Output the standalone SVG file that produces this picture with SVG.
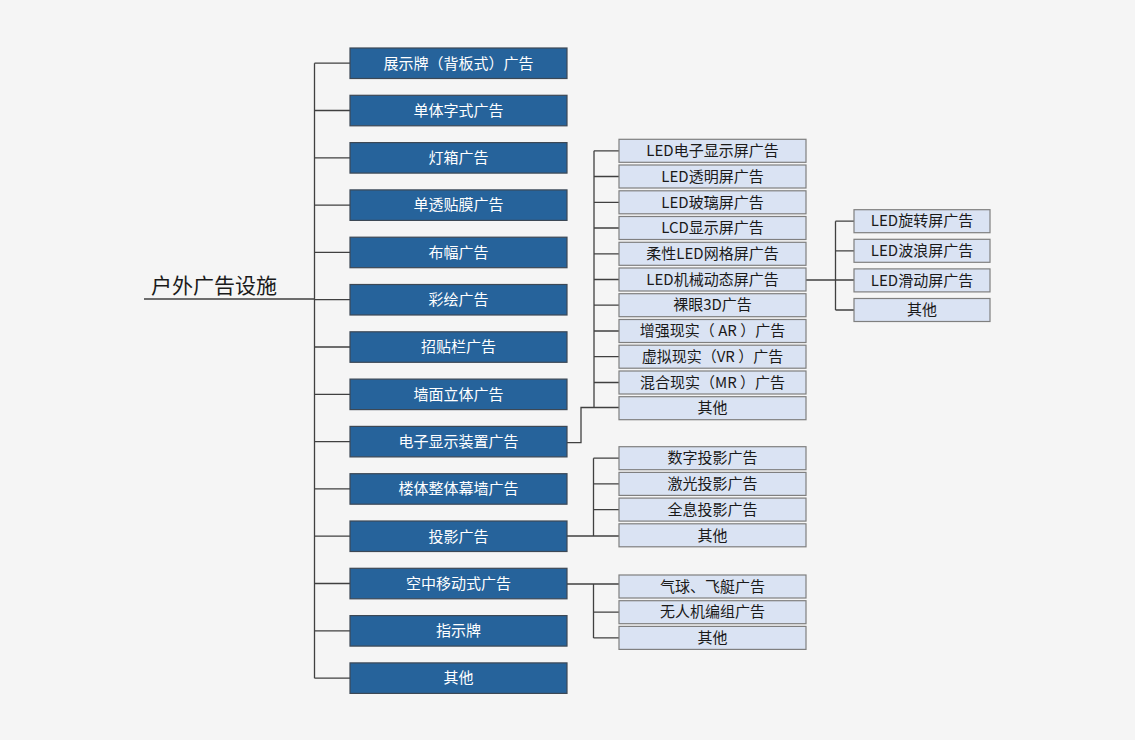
<svg xmlns="http://www.w3.org/2000/svg" width="1135" height="740" viewBox="0 0 1135 740">
<style>
.bg{fill:#f5f5f5}
.b1{fill:#26639b;stroke:#3c4855;stroke-width:1.2}
.b2{fill:#dae3f3;stroke:#7f7f7f;stroke-width:1.2}
.t1{font-family:"Noto Sans CJK SC","Noto Sans",sans-serif;font-size:15px;fill:#ffffff;text-anchor:middle;white-space:pre}
.t2{font-family:"Noto Sans CJK SC","Noto Sans",sans-serif;font-size:15px;fill:#1a1a1a;text-anchor:middle;white-space:pre}
.root{font-family:"Noto Sans CJK SC","Noto Sans",sans-serif;font-size:21px;fill:#1a1a1a}
.ln{fill:none;stroke:#404040;stroke-width:1.3}
</style>
<rect class="bg" x="0" y="0" width="1135" height="740"/>
<g id="connectors">
<path class="ln" d="M144 299 H314.5 M314.5 63.2 V678.2 M314.5 63.2 H350 M314.5 110.5 H350 M314.5 157.8 H350 M314.5 205.1 H350 M314.5 252.4 H350 M314.5 299.7 H350 M314.5 347 H350 M314.5 394.3 H350 M314.5 441.6 H350 M314.5 488.9 H350 M314.5 536.2 H350 M314.5 583.5 H350 M314.5 630.8 H350 M314.5 678.2 H350"/>
<path class="ln" d="M563 442.6 H581 V407.5 H619 M594 150.8 V407.5 M594 150.8 H619 M594 176.5 H619 M594 202.3 H619 M594 228 H619 M594 253.8 H619 M594 279.5 H619 M594 305.2 H619 M594 331 H619 M594 356.7 H619 M594 382.5 H619"/>
<path class="ln" d="M806 280 H854 M835.5 221.2 V310 M835.5 221.2 H854 M835.5 250.8 H854 M835.5 310 H854"/>
<path class="ln" d="M567 536 H619 M593.5 458.2 V536 M593.5 458.2 H619 M593.5 483.9 H619 M593.5 509.6 H619"/>
<path class="ln" d="M567 584 H619 M593.5 584 V637.9 M593.5 612.2 H619 M593.5 637.9 H619"/>
</g>
<g id="root"><text class="root" x="151" y="293">户外广告设施</text></g>
<g id="n1"><rect class="b1" x="350" y="48" width="217" height="30.5"/><text class="t1" x="458.5" y="68.5">展示牌（背板式）广告</text></g>
<g id="n2"><rect class="b1" x="350" y="95.3" width="217" height="30.5"/><text class="t1" x="458.5" y="115.8">单体字式广告</text></g>
<g id="n3"><rect class="b1" x="350" y="142.6" width="217" height="30.5"/><text class="t1" x="458.5" y="163.1">灯箱广告</text></g>
<g id="n4"><rect class="b1" x="350" y="189.9" width="217" height="30.5"/><text class="t1" x="458.5" y="210.4">单透贴膜广告</text></g>
<g id="n5"><rect class="b1" x="350" y="237.2" width="217" height="30.5"/><text class="t1" x="458.5" y="257.7">布幅广告</text></g>
<g id="n6"><rect class="b1" x="350" y="284.5" width="217" height="30.5"/><text class="t1" x="458.5" y="305">彩绘广告</text></g>
<g id="n7"><rect class="b1" x="350" y="331.8" width="217" height="30.5"/><text class="t1" x="458.5" y="352.3">招贴栏广告</text></g>
<g id="n8"><rect class="b1" x="350" y="379.1" width="217" height="30.5"/><text class="t1" x="458.5" y="399.6">墙面立体广告</text></g>
<g id="n9"><rect class="b1" x="350" y="426.4" width="217" height="30.5"/><text class="t1" x="458.5" y="446.9">电子显示装置广告</text></g>
<g id="n10"><rect class="b1" x="350" y="473.7" width="217" height="30.5"/><text class="t1" x="458.5" y="494.2">楼体整体幕墙广告</text></g>
<g id="n11"><rect class="b1" x="350" y="521" width="217" height="30.5"/><text class="t1" x="458.5" y="541.5">投影广告</text></g>
<g id="n12"><rect class="b1" x="350" y="568.3" width="217" height="30.5"/><text class="t1" x="458.5" y="588.8">空中移动式广告</text></g>
<g id="n13"><rect class="b1" x="350" y="615.6" width="217" height="30.5"/><text class="t1" x="458.5" y="636.1">指示牌</text></g>
<g id="n14"><rect class="b1" x="350" y="662.9" width="217" height="30.5"/><text class="t1" x="458.5" y="683.4">其他</text></g>
<g id="e1"><rect class="b2" x="619" y="139.3" width="187" height="23"/><text class="t2" x="712.5" y="156">LED电子显示屏广告</text></g>
<g id="e2"><rect class="b2" x="619" y="165" width="187" height="23"/><text class="t2" x="712.5" y="181.7">LED透明屏广告</text></g>
<g id="e3"><rect class="b2" x="619" y="190.8" width="187" height="23"/><text class="t2" x="712.5" y="207.5">LED玻璃屏广告</text></g>
<g id="e4"><rect class="b2" x="619" y="216.5" width="187" height="23"/><text class="t2" x="712.5" y="233.2">LCD显示屏广告</text></g>
<g id="e5"><rect class="b2" x="619" y="242.3" width="187" height="23"/><text class="t2" x="712.5" y="259">柔性LED网格屏广告</text></g>
<g id="e6"><rect class="b2" x="619" y="268" width="187" height="23"/><text class="t2" x="712.5" y="284.7">LED机械动态屏广告</text></g>
<g id="e7"><rect class="b2" x="619" y="293.7" width="187" height="23"/><text class="t2" x="712.5" y="310.4">裸眼3D广告</text></g>
<g id="e8"><rect class="b2" x="619" y="319.5" width="187" height="23"/><text class="t2" x="712.5" y="336.2">增强现实（ AR ）广告</text></g>
<g id="e9"><rect class="b2" x="619" y="345.2" width="187" height="23"/><text class="t2" x="712.5" y="361.9">虚拟现实（VR ）广告</text></g>
<g id="e10"><rect class="b2" x="619" y="371" width="187" height="23"/><text class="t2" x="712.5" y="387.7">混合现实（MR ）广告</text></g>
<g id="e11"><rect class="b2" x="619" y="396.7" width="187" height="23"/><text class="t2" x="712.5" y="413.4">其他</text></g>
<g id="m1"><rect class="b2" x="854" y="209.7" width="136" height="23"/><text class="t2" x="922" y="226.4">LED旋转屏广告</text></g>
<g id="m2"><rect class="b2" x="854" y="239.3" width="136" height="23"/><text class="t2" x="922" y="256">LED波浪屏广告</text></g>
<g id="m3"><rect class="b2" x="854" y="268.9" width="136" height="23"/><text class="t2" x="922" y="285.6">LED滑动屏广告</text></g>
<g id="m4"><rect class="b2" x="854" y="298.5" width="136" height="23"/><text class="t2" x="922" y="315.2">其他</text></g>
<g id="p1"><rect class="b2" x="619" y="446.7" width="187" height="23"/><text class="t2" x="712.5" y="463.4">数字投影广告</text></g>
<g id="p2"><rect class="b2" x="619" y="472.4" width="187" height="23"/><text class="t2" x="712.5" y="489.1">激光投影广告</text></g>
<g id="p3"><rect class="b2" x="619" y="498.1" width="187" height="23"/><text class="t2" x="712.5" y="514.8">全息投影广告</text></g>
<g id="p4"><rect class="b2" x="619" y="523.8" width="187" height="23"/><text class="t2" x="712.5" y="540.5">其他</text></g>
<g id="a1"><rect class="b2" x="619" y="575" width="187" height="23"/><text class="t2" x="712.5" y="591.7">气球、飞艇广告</text></g>
<g id="a2"><rect class="b2" x="619" y="600.7" width="187" height="23"/><text class="t2" x="712.5" y="617.4">无人机编组广告</text></g>
<g id="a3"><rect class="b2" x="619" y="626.4" width="187" height="23"/><text class="t2" x="712.5" y="643.1">其他</text></g>
</svg>
